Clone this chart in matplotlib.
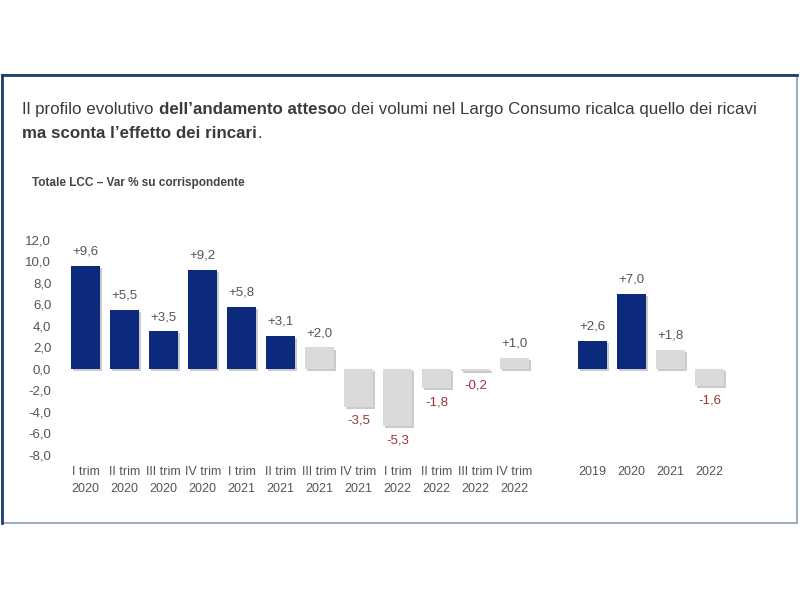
import matplotlib
matplotlib.use("Agg")
import matplotlib.pyplot as plt
import matplotlib.patheffects as pe
from matplotlib.patches import Rectangle

# data
labels_q = ["I trim\n2020", "II trim\n2020", "III trim\n2020", "IV trim\n2020",
            "I trim\n2021", "II trim\n2021", "III trim\n2021", "IV trim\n2021",
            "I trim\n2022", "II trim\n2022", "III trim\n2022", "IV trim\n2022"]
values_q = [9.6, 5.5, 3.5, 9.2, 5.8, 3.1, 2.0, -3.5, -5.3, -1.8, -0.2, 1.0]
labels_y = ["2019", "2020", "2021", "2022"]
values_y = [2.6, 7.0, 1.8, -1.6]
# first bars are actual data (blue), the rest forecasts (grey)
actual_q = 6
actual_y = 2

navy = "#0b2a7c"
grey = "#dadad8"
txt = "#555555"
red = "#a0303a"

plt.rcParams["font.family"] = ["Liberation Sans", "DejaVu Sans"]

fig = plt.figure(figsize=(8, 6), dpi=100)

# outer frame
fig.patches.append(Rectangle((0.002, 0.128), 0.994, 0.747, transform=fig.transFigure,
                             fill=False, edgecolor="#8a9db5", lw=1.2))
fig.lines.append(plt.Line2D([0.002, 0.996], [0.875, 0.875], transform=fig.transFigure,
                            color="#1f3d6e", lw=2))
fig.lines.append(plt.Line2D([0.002, 0.002], [0.128, 0.875], transform=fig.transFigure,
                            color="#1f3d6e", lw=2))

ax = fig.add_axes([0.078, 0.2417, 0.838, 0.3583])

pos_q = list(range(len(values_q)))
pos_y = [len(values_q) + 1 + i for i in range(len(values_y))]
positions = pos_q + pos_y
values = values_q + values_y
colors = [navy if i < actual_q else grey for i in range(len(values_q))] + \
         [navy if i < actual_y else grey for i in range(len(values_y))]

shadow = [pe.SimplePatchShadow(offset=(1.5, -1.5), shadow_rgbFace="#999999", alpha=0.5), pe.Normal()]
bars = ax.bar(positions, values, width=0.74, color=colors, zorder=2)
for b in bars:
    b.set_path_effects(shadow)

for x, v in zip(positions, values):
    s = ("+%.1f" % v).replace(".", ",") if v >= 0 else ("%.1f" % v).replace(".", ",")
    if v >= 0:
        ax.annotate(s, (x, v), xytext=(0, 6), textcoords="offset points",
                    ha="center", va="bottom", fontsize=9.5, color=txt)
    else:
        ax.annotate(s, (x, v), xytext=(0, -6), textcoords="offset points",
                    ha="center", va="top", fontsize=9.5, color=red)

ax.set_xlim(-0.6, 16.6)
ax.set_ylim(-8, 12)
ax.set_yticks(range(-8, 13, 2))
ax.set_yticklabels([("%.1f" % t).replace(".", ",") for t in range(-8, 13, 2)],
                   fontsize=9.5, color=txt)
ax.set_xticks(positions)
ax.set_xticklabels(labels_q + labels_y, fontsize=9, color=txt, linespacing=1.6)
ax.tick_params(length=0, axis="y", pad=8)
ax.tick_params(length=0, axis="x", pad=8)
for sp in ax.spines.values():
    sp.set_visible(False)

# title with mixed bold / regular pieces
renderer = fig.canvas.get_renderer()
def line(pieces, x, y):
    for s, w in pieces:
        t = fig.text(x, y, s, fontsize=12.2, fontweight=w, color="#3a3a3a",
                     va="baseline", ha="left")
        bb = t.get_window_extent(renderer)
        x = bb.x1 / fig.bbox.width

line([("Il profilo evolutivo ", "normal"), ("dell\u2019andamento atteso", "bold"),
      ("o dei volumi nel Largo Consumo ricalca quello dei ricavi", "normal")], 0.028, 0.81)
line([("ma sconta l\u2019effetto dei rincari", "bold"), (".", "normal")], 0.028, 0.77)

fig.text(0.04, 0.69, "Totale LCC \u2013 Var % su corrispondente", fontsize=8.5,
         fontweight="bold", color="#444444")

fig.savefig("out.png", dpi=100)
